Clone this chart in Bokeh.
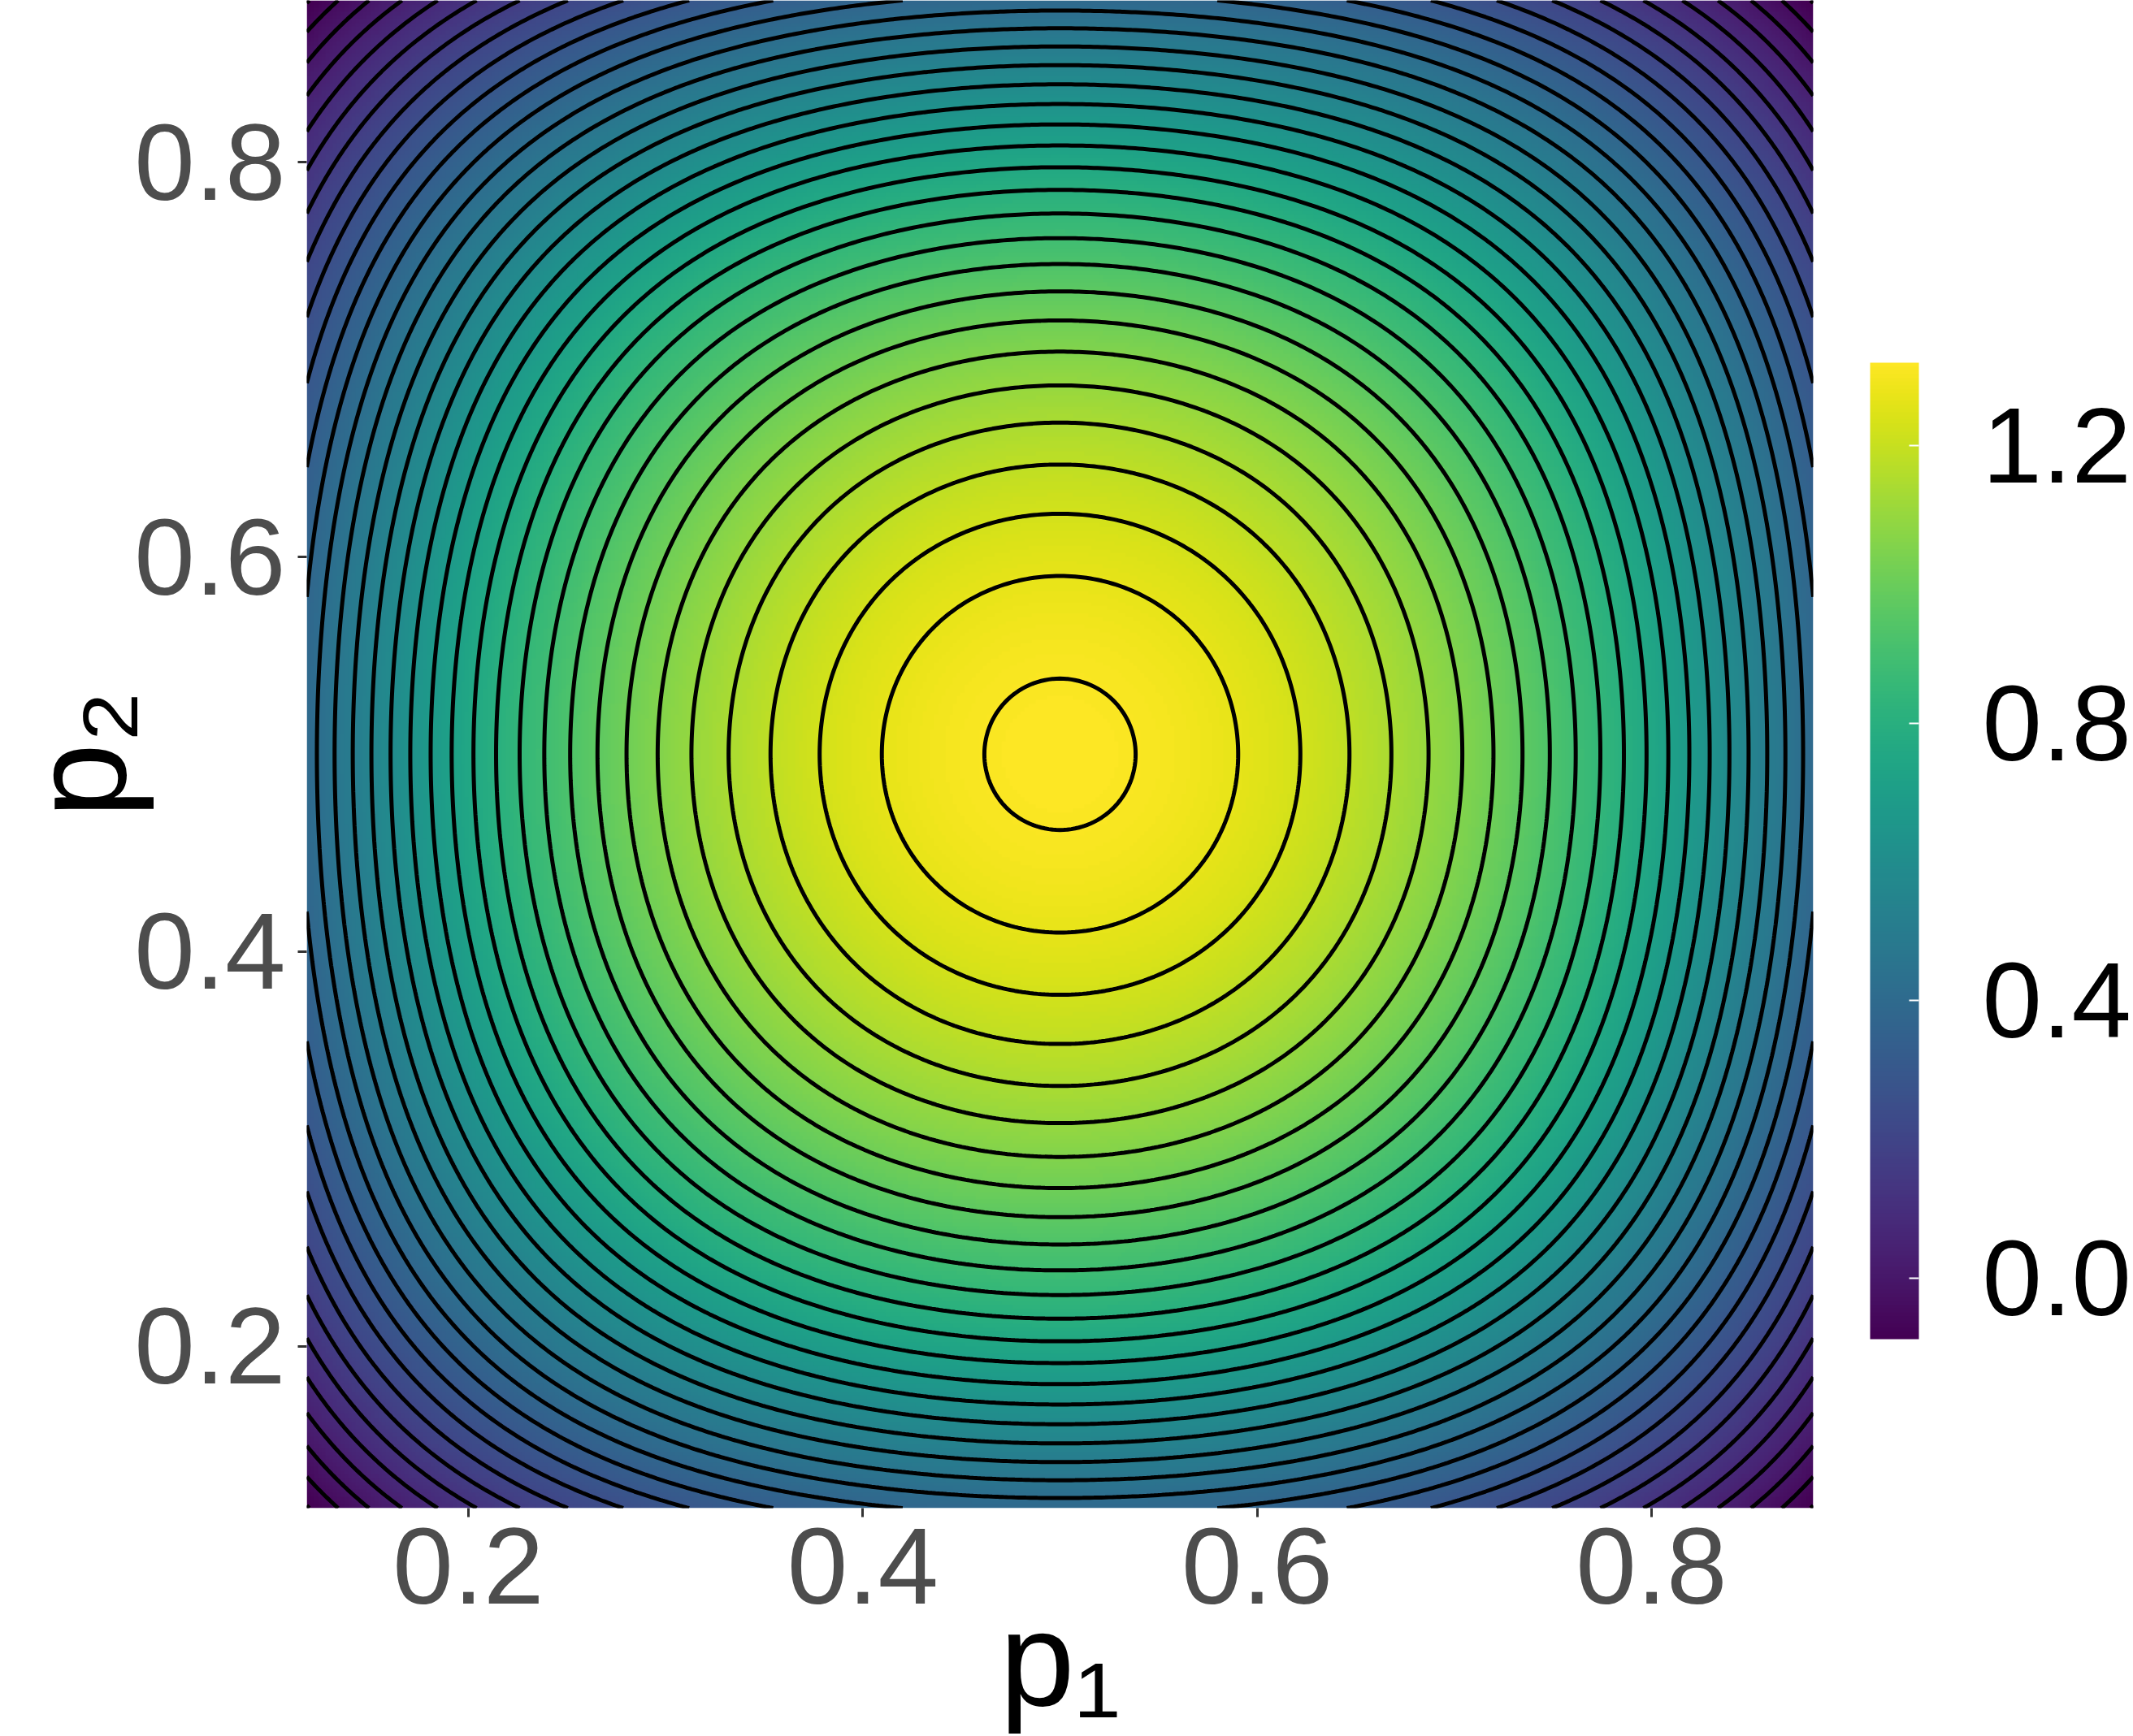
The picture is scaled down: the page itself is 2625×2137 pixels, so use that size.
import numpy as np
from bokeh.plotting import figure
from bokeh.models import (Range1d, LinearColorMapper, ColorBar, FixedTicker)
from bokeh.palettes import Viridis256
from bokeh.embed import file_html
from bokeh.resources import INLINE

# ---------------- values ----------------
p_range = [0.118, 0.882]                 # extent of the p1 / p2 grid
axis_ticks = [0.2, 0.4, 0.6, 0.8]
axis_tick_labels = ["0.2", "0.4", "0.6", "0.8"]
colorbar_ticks = [0.0, 0.4, 0.8, 1.2]
colorbar_labels = ["0.0", "0.4", "0.8", "1.2"]
value_range = [-0.088, 1.32]             # colour bar limits (min / max of the surface)
peak_p = [0.5, 0.5]                      # location of the maximum
x_title = "p\u2081"
y_title = "p\u2082"
# surface estimated from the contour crossings:
# value = c0 - c1*(s+t) + c2*s*t - c3*s*t*(s+t),  s=(p1-0.5)^2, t=(p2-0.5)^2
surface_coef = [1.32, 6.32, 28.5, 27.6]
contour_top = 1.3107                     # highest contour level
contour_step = 0.0423                    # spacing of the contour levels
contour_count = 34

# ---------------- build the field ----------------
n = 401
p1 = np.linspace(p_range[0], p_range[1], n)
p2 = np.linspace(p_range[0], p_range[1], n)
P1, P2 = np.meshgrid(p1, p2)
s = (P1 - peak_p[0]) ** 2
t = (P2 - peak_p[1]) ** 2
c0, c1, c2, c3 = surface_coef
Z = c0 - c1 * (s + t) + c2 * s * t - c3 * s * t * (s + t)
levels = [contour_top - k * contour_step for k in range(contour_count)][::-1]

# ---------------- figure ----------------
W, H = 2625, 2137
p = figure(width=W, height=H,
           x_range=Range1d(p_range[0], p_range[1]),
           y_range=Range1d(p_range[0], p_range[1]),
           output_backend="svg", toolbar_location=None,
           min_border_left=377, min_border_right=393,
           min_border_top=0, min_border_bottom=279)
p.outline_line_color = None
p.grid.visible = False
p.background_fill_color = "white"
p.border_fill_color = "white"

mapper = LinearColorMapper(palette=Viridis256, low=value_range[0], high=value_range[1])
p.image(image=[Z], x=p_range[0], y=p_range[0],
        dw=p_range[1] - p_range[0], dh=p_range[1] - p_range[0],
        color_mapper=mapper)
p.contour(x=p1, y=p2, z=Z, levels=levels, line_color="black", line_width=5)

font = "Liberation Sans"
for ax in (p.xaxis[0], p.yaxis[0]):
    ax.ticker = FixedTicker(ticks=axis_ticks)
    ax.major_label_overrides = {tk: lb for tk, lb in zip(axis_ticks, axis_tick_labels)}
    ax.axis_line_color = None
    ax.major_tick_line_color = "#333333"
    ax.major_tick_line_width = 3
    ax.major_tick_in = 0
    ax.major_tick_out = 11
    ax.minor_tick_line_color = None
    ax.major_label_text_font = font
    ax.major_label_text_font_size = "134px"
    ax.major_label_text_color = "#4D4D4D"
    ax.axis_label_text_font = font
    ax.axis_label_text_font_size = "166px"
    ax.axis_label_text_font_style = "normal"
    ax.axis_label_text_color = "black"
p.xaxis.axis_label = x_title
p.yaxis.axis_label = y_title
p.yaxis.major_label_standoff = 15
p.xaxis.major_label_standoff = 14
p.xaxis.axis_label_standoff = -27
p.yaxis.axis_label_standoff = -28

cb = ColorBar(color_mapper=mapper,
              ticker=FixedTicker(ticks=colorbar_ticks),
              major_label_overrides={tk: lb for tk, lb in zip(colorbar_ticks, colorbar_labels)},
              width=60, height=1202, location=(70, 208),
              padding=0, margin=0,
              label_standoff=78,
              major_label_text_font=font,
              major_label_text_font_size="132px",
              major_label_text_color="black",
              major_tick_line_color="white", major_tick_line_width=2,
              major_tick_in=12, major_tick_out=0,
              minor_tick_line_color=None,
              bar_line_color=None, border_line_color=None,
              background_fill_color=None)
p.add_layout(cb, "right")

open("out.html", "w").write(file_html(p, INLINE))
